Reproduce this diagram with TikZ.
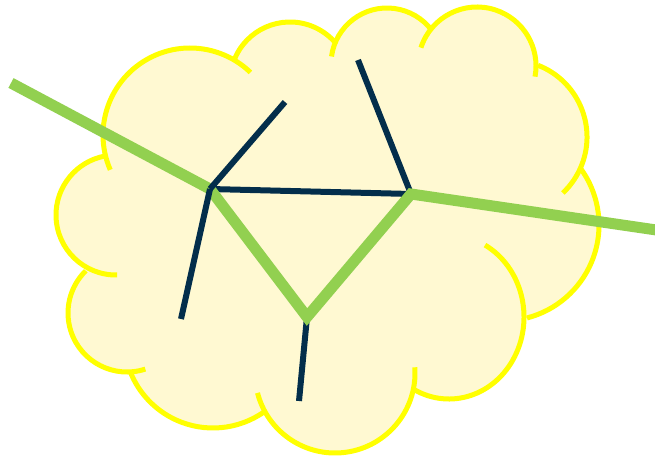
\documentclass[tikz,border=0pt]{standalone}
\definecolor{cloudfill}{HTML}{FFF9D2}
\definecolor{cloudline}{HTML}{FFFF00}
\definecolor{navy}{HTML}{032E4B}
\definecolor{leaf}{HTML}{92D050}
\begin{document}
\begin{tikzpicture}[x=1pt,y=1pt,
  bump/.style={draw=cloudline,line width=5pt},
  spoke/.style={draw=navy,line width=6pt},
  trunk/.style={draw=leaf,line width=11pt,line join=miter}]
\useasboundingbox (0,0) rectangle (655,458);
% cloud fill
\fill[cloudfill] (190,323) circle[radius=87pt] (290,376) circle[radius=60pt]
  (387,394) circle[radius=56pt] (477,392) circle[radius=59pt]
  (510,321) circle[radius=77pt] (503,233) circle[radius=96pt]
  (449,141) ellipse[x radius=75pt,y radius=82pt] (335,85) circle[radius=80pt]
  (213,119) circle[radius=89pt] (127,145) circle[radius=59pt]
  (116,243) circle[radius=60pt];
\fill[cloudfill] (190,323) -- (290,376) -- (387,394) -- (477,392) -- (510,321)
  -- (503,233) -- (449,141) -- (335,85) -- (213,119) -- (127,145) -- (116,243) -- cycle;
% cloud outline arcs
\draw[bump] (190,323) ++(203.6:87pt) arc[start angle=203.6,end angle=46,radius=87pt];
\draw[bump] (290,376) ++(158.9:60pt) arc[start angle=158.9,end angle=40.4,radius=60pt];
\draw[bump] (387,394) ++(172.3:56pt) arc[start angle=172.3,end angle=36.7,radius=56pt];
\draw[bump] (477,392) ++(161.9:59pt) arc[start angle=161.9,end angle=-10.4,radius=59pt];
\draw[bump] (510,321) ++(68.7:77pt) arc[start angle=68.7,end angle=-46.6,radius=77pt];
\draw[bump] (503,233) ++(37:96pt) arc[start angle=37,end angle=-75.5,radius=96pt];
\draw[bump] (449,141) ++(61.3:75pt and 82pt) arc[start angle=61.3,end angle=-117.9,x radius=75pt,y radius=82pt];
\draw[bump] (335,85) ++(4.1:80pt) arc[start angle=4.1,end angle=-165.6,radius=80pt];
\draw[bump] (213,119) ++(-54.8:89pt) arc[start angle=-54.8,end angle=-158.3,radius=89pt];
\draw[bump] (127,145) ++(-71.9:59pt) arc[start angle=-71.9,end angle=-225.7,radius=59pt];
\draw[bump] (116,243) ++(-89:60pt) arc[start angle=-89,end angle=-259.3,radius=60pt];
% network
\coordinate (v1) at (210,269);
\coordinate (v2) at (411,264);
\coordinate (v3) at (307,141);
\coordinate (gL) at (11,375);
\coordinate (gR) at (670,226);
\coordinate (s1) at (285,356);
\coordinate (s2) at (181,139);
\coordinate (s3) at (358,398);
\coordinate (s4) at (299,57);
\draw[spoke] (v1) -- (v2);
\draw[spoke] (v2) -- (s3);
\draw[spoke] (v3) -- (s4);
\draw[trunk] (gL) -- (v1) -- (v3) -- (v2) -- (gR);
\draw[spoke] (v1) -- (s1);
\draw[spoke] (v1) -- (s2);
\end{tikzpicture}
\end{document}
